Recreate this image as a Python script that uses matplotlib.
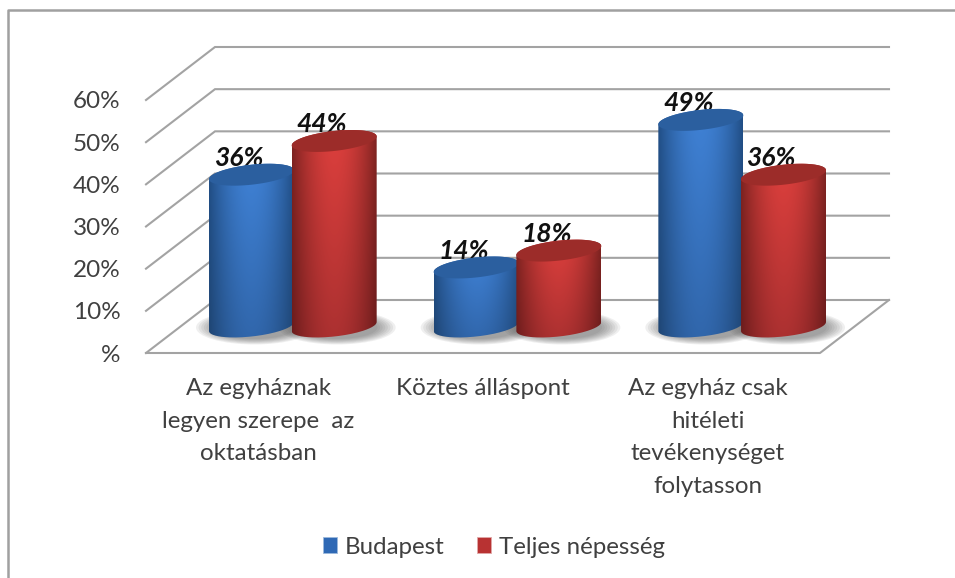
import numpy as np
import matplotlib
matplotlib.use("Agg")
import matplotlib.pyplot as plt
from matplotlib.lines import Line2D
from matplotlib.patches import Patch, PathPatch, Ellipse
from matplotlib.path import Path

categories = ["Az egyháznak\nlegyen szerepe  az\noktatásban", "Köztes álláspont",
              "Az egyház csak\nhitéleti\ntevékenységet\nfolytasson"]
series_names = ["Budapest", "Teljes népesség"]
budapest = [36, 14, 49]
teljes = [44, 18, 36]
y_ticks = [0, 10, 20, 30, 40, 50, 60]
y_labels = ["%", "10%", "20%", "30%", "40%", "50%", "60%"]

W, H = 955, 578
plt.rcParams["font.family"] = ["Lato", "DejaVu Sans"]
fig = plt.figure(figsize=(W / 100, H / 100), dpi=100, facecolor="white")
ax = fig.add_axes([146 / W, (H - 353) / H, 674 / W, 253 / H])
ax.set_xlim(-0.5, 2.5)
ax.set_ylim(0, 60)
for s in ax.spines.values():
    s.set_visible(False)
ax.patch.set_visible(False)

PX = 3 / 674      # x units per pixel
PY = 60 / 253     # y units per pixel
DX, DY = 69 * PX, 53 * PY
GRID = "#a3a3a3"
TXT = "#404040"

# walls and floor
for v in y_ticks:
    ax.plot([-0.5, -0.5 + DX, 2.5 + DX], [v, v + DY, v + DY], color=GRID, lw=1.5,
            clip_on=False, zorder=1, solid_joinstyle="miter")
ax.plot([-0.5, 2.5, 2.5 + DX], [0, 0, DY], color=GRID, lw=1.5, clip_on=False, zorder=1)

ax.set_xticks(range(3), categories)
ax.set_yticks(y_ticks, y_labels)
ax.tick_params(axis="y", length=0, pad=18.5, labelsize=17.5, labelcolor=TXT)
ax.tick_params(axis="x", length=0, pad=18, labelsize=17.4, labelcolor=TXT)
for t in ax.get_xticklabels():
    t.set_linespacing(1.69)

A = 42.5 * PX      # half width
B = 10 * PY        # half height of ellipse
TILT = 4.5 * PY    # right side higher
WIDTH = 0.184

STYLE = {
    0: dict(c_top=(0.25, 0.51, 0.84), c_bot=(0.19, 0.40, 0.67),
            e_top=(0.13, 0.31, 0.53), e_bot=(0.12, 0.27, 0.45), cap="#2b5f9f"),
    1: dict(c_top=(0.87, 0.25, 0.24), c_bot=(0.67, 0.19, 0.19),
            e_top=(0.50, 0.14, 0.13), e_bot=(0.42, 0.11, 0.11), cap="#9c2c29"),
}


def ring(cx, cy, t):
    return cx + A * np.cos(t), cy + B * np.sin(t) + TILT * np.cos(t)


def cylinder(cx, v, k, z):
    st = STYLE[k]
    base = DY / 2
    top = v + base
    t_up = np.linspace(0, np.pi, 80)
    t_lo = np.linspace(np.pi, 2 * np.pi, 80)
    xt, yt = ring(cx, top, t_up)
    xb, yb = ring(cx, base, t_lo)
    verts = np.r_[np.c_[xt, yt], np.c_[xb, yb], [[xt[0], yt[0]]]]
    clip = PathPatch(Path(verts), transform=ax.transData, fc="none", ec="none")
    ax.add_patch(clip)

    # soft shadow on the floor
    for i in range(8):
        ax.add_patch(Ellipse((cx + 3 * PX, base - 1 * PY), 2 * A + (16 - 2.6 * i) * 2 * PX,
                             (2 * B) + (14 - 1.6 * i) * PY, angle=0, fc="#555555", ec="none",
                             alpha=0.09, clip_on=False, zorder=2))

    # gradient body
    nx, ny = 120, 60
    u = np.abs(np.linspace(-1, 1, nx))[None, :, None] ** 1.9
    w = np.linspace(0, 1, ny)[:, None, None]
    c = np.array(st["c_top"]) * (1 - w) + np.array(st["c_bot"]) * w
    e = np.array(st["e_top"]) * (1 - w) + np.array(st["e_bot"]) * w
    img = c * (1 - u) + e * u
    im = ax.imshow(img, extent=[cx - A, cx + A, base - B - TILT, top + B + TILT],
                   origin="upper", aspect="auto", zorder=z, interpolation="bilinear")
    im.set_clip_path(clip)
    im.set_clip_box(fig.bbox)

    tc = np.linspace(0, 2 * np.pi, 160)
    xc, yc = ring(cx, top, tc)
    ax.fill(xc, yc, color=st["cap"], lw=0, zorder=z + 0.1, clip_on=False)

    ax.annotate(f"{v}%", xy=(cx, top), xytext=(-9, 12), textcoords="offset points",
                ha="center", va="center", style="italic", weight="bold", fontsize=19,
                color="#111111", zorder=4, annotation_clip=False)


for i in range(3):
    gx = i + DX / 2
    cylinder(gx - WIDTH, budapest[i], 0, 5 + i)
    cylinder(gx + WIDTH, teljes[i], 1, 5.5 + i)

ax.set_xlim(-0.5, 2.5)
ax.set_ylim(0, 60)

# legend
handles = [Patch(fc="#2f69b5", ec="#9db9dc", lw=0.6), Patch(fc="#b83232", ec="#e0a8a8", lw=0.6)]
leg = fig.legend(handles, series_names, loc="center", bbox_to_anchor=(494 / W, 1 - 547 / H),
                 ncol=2, frameon=False, fontsize=17.3, labelcolor=TXT, handlelength=0.58,
                 handleheight=0.6, handletextpad=0.33, columnspacing=1.33)

# outer frame (left and top only)
fig.add_artist(Line2D([8 / W, 8 / W, 1], [0, 1 - 10 / H, 1 - 10 / H], color="#a0a0a0", lw=1.8,
                      transform=fig.transFigure))

fig.savefig("out.png", dpi=100)
